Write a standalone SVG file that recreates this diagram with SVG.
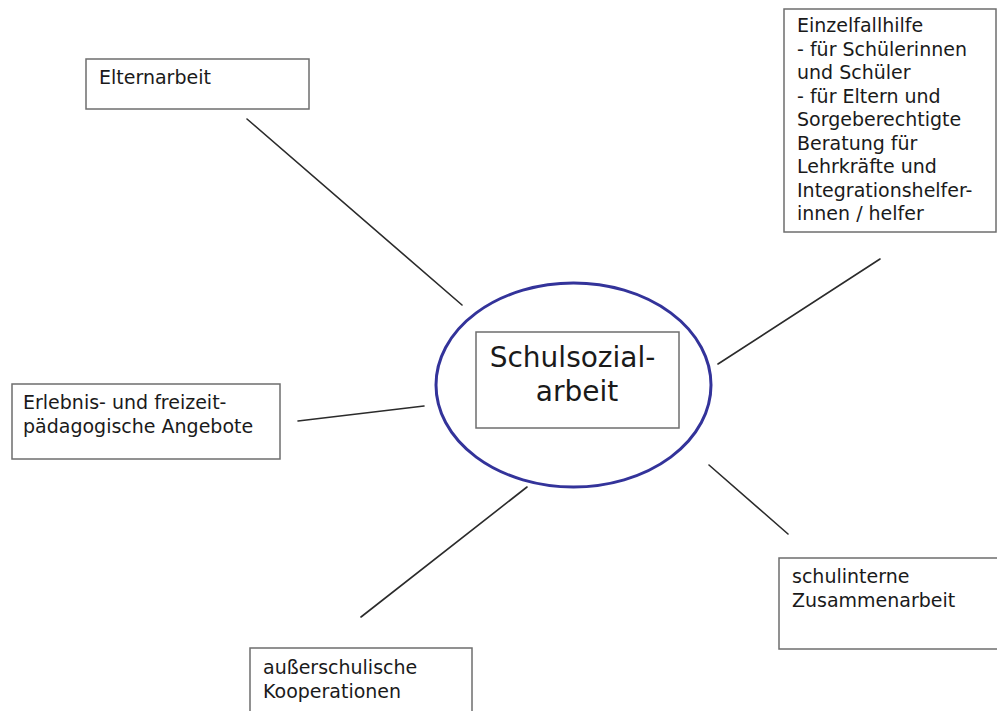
<svg xmlns="http://www.w3.org/2000/svg" width="997" height="711" viewBox="0 0 997 711">
  <style>
    .box { fill: #ffffff; stroke: #6e6e6e; stroke-width: 1.5; }
    .lbl { font-family: "DejaVu Sans", "Liberation Sans", sans-serif; font-size: 19px; fill: #1a1a1a; }
    .link { stroke: #2b2b2b; stroke-width: 1.6; fill: none; stroke-linecap: round; }
  </style>
  <rect width="997" height="711" fill="#ffffff"/>

  <!-- spokes from the centre to the outer topics -->
  <g id="connectors">
    <line class="link" x1="247" y1="119" x2="462" y2="305"/>
    <line class="link" x1="718" y1="364" x2="880" y2="259"/>
    <line class="link" x1="298" y1="421" x2="424" y2="406"/>
    <line class="link" x1="709" y1="465" x2="788" y2="534"/>
    <line class="link" x1="361" y1="617" x2="527" y2="487"/>
  </g>

  <g id="center">
    <ellipse cx="573.5" cy="385" rx="137.5" ry="102" fill="#ffffff" stroke="#33339a" stroke-width="3"/>
    <rect class="box" x="476" y="332" width="203" height="96"/>
    <text class="lbl" style="font-size:28px" text-anchor="middle">
      <tspan x="577" y="367">Schulsozial-</tspan>
      <tspan x="577" y="401">arbeit</tspan>
    </text>
  </g>

  <g id="elternarbeit">
    <rect class="box" x="86" y="59" width="223" height="50"/>
    <text class="lbl" x="99" y="84">Elternarbeit</text>
  </g>

  <g id="einzelfallhilfe">
    <rect class="box" x="784" y="9" width="212" height="223"/>
    <text class="lbl">
      <tspan x="797" y="32">Einzelfallhilfe</tspan>
      <tspan x="797" y="55.5">- für Schülerinnen</tspan>
      <tspan x="797" y="79">und Schüler</tspan>
      <tspan x="797" y="102.5">- für Eltern und</tspan>
      <tspan x="797" y="126">Sorgeberechtigte</tspan>
      <tspan x="797" y="149.5">Beratung für</tspan>
      <tspan x="797" y="173">Lehrkräfte und</tspan>
      <tspan x="797" y="196.5">Integrationshelfer-</tspan>
      <tspan x="797" y="220">innen / helfer</tspan>
    </text>
  </g>

  <g id="erlebnis">
    <rect class="box" x="12" y="384" width="268" height="75"/>
    <text class="lbl">
      <tspan x="23" y="409">Erlebnis- und freizeit-</tspan>
      <tspan x="23" y="433">pädagogische Angebote</tspan>
    </text>
  </g>

  <g id="schulintern">
    <rect class="box" x="779" y="558" width="222" height="91"/>
    <text class="lbl">
      <tspan x="792" y="583">schulinterne</tspan>
      <tspan x="792" y="607">Zusammenarbeit</tspan>
    </text>
  </g>

  <g id="ausserschulisch">
    <rect class="box" x="250" y="648" width="222" height="70"/>
    <text class="lbl">
      <tspan x="263" y="674">außerschulische</tspan>
      <tspan x="263" y="698">Kooperationen</tspan>
    </text>
  </g>
</svg>
